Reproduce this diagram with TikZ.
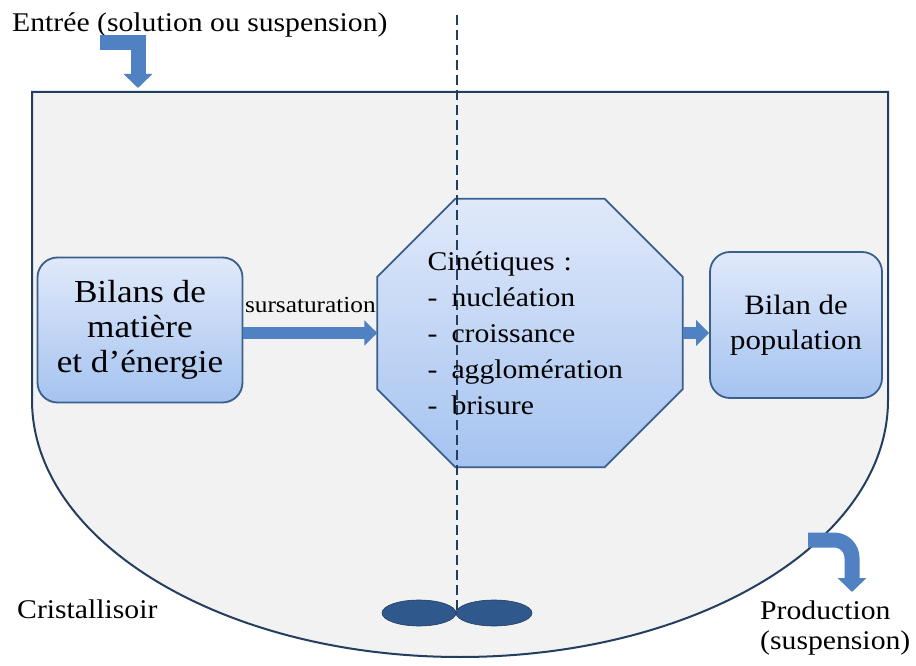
\documentclass[tikz,border=0pt]{standalone}
\usepackage{fontspec}
\setmainfont[FakeStretch=1.1]{Liberation Serif}
\usetikzlibrary{arrows.meta,shapes.geometric,positioning}
\pgfdeclarelayer{background}
\pgfdeclarelayer{foreground}
\pgfsetlayers{background,main,foreground}
\definecolor{navy}{RGB}{36,62,96}
\definecolor{bordbleu}{RGB}{58,95,140}
\definecolor{hautbleu}{RGB}{224,233,250}
\definecolor{basbleu}{RGB}{165,195,240}
\definecolor{flechebleu}{RGB}{79,129,195}
\definecolor{palebleu}{RGB}{47,89,140}
\definecolor{fondcuve}{RGB}{242,242,242}
\tikzstyle{bilan}=[draw=bordbleu, line width=1.8pt, top color=hautbleu,
  bottom color=basbleu, rounded corners=20pt, align=center,
  font=\fontsize{32}{35}\selectfont]
\tikzstyle{cinetique}=[text width=205pt, inner xsep=50pt, minimum height=268pt,
  align=left, font=\fontsize{27}{36}\selectfont]
\tikzstyle{octogone}=[draw=bordbleu, line width=1.8pt, top color=hautbleu,
  bottom color=basbleu]
\tikzstyle{texte}=[anchor=base west, inner sep=0pt, font=\fontsize{27}{30}\selectfont]
\tikzstyle{line}=[draw=flechebleu, line width=12pt, -{Triangle[width=25pt,length=13pt]}]
\tikzstyle{coude}=[draw=flechebleu, line width=15pt, -{Triangle[width=28pt,length=14pt]}]
\tikzstyle{pale}=[ellipse, fill=palebleu, draw=navy, line width=0.6pt,
  minimum width=74pt, minimum height=26pt, inner sep=0pt]
\newcommand{\tiret}{\makebox[24pt][l]{-}}

\begin{document}
\begin{tikzpicture}[x=1pt,y=1pt]
  \useasboundingbox (0,0) rectangle (916,665);

  % the crystallizer
  \begin{pgfonlayer}{background}
    \path[fill=fondcuve, draw=navy, line width=2pt] (32,265) -- (32,573)
      -- (888,573) -- (888,265)
      arc[start angle=0, end angle=-180, x radius=428pt, y radius=257pt] -- cycle;
  \end{pgfonlayer}

  % kinetics block
  \begin{pgfonlayer}{foreground}
    \node[cinetique] (CIN) at (530,332) {Cinétiques :\\
      \tiret nucléation\\ \tiret croissance\\ \tiret agglomération\\ \tiret brisure};
  \end{pgfonlayer}
  \path[octogone] ([xshift=78pt]CIN.north west) -- ([xshift=-78pt]CIN.north east)
    -- ([yshift=-78pt]CIN.north east) -- ([yshift=78pt]CIN.south east)
    -- ([xshift=-78pt]CIN.south east) -- ([xshift=78pt]CIN.south west)
    -- ([yshift=78pt]CIN.south west) -- ([yshift=-78pt]CIN.north west) -- cycle;

  % balances
  \path (CIN.center)+(-390,3) node[bilan, minimum width=205pt, minimum height=145pt]
    (BILANS) {Bilans de\\matière\\et d’énergie};
  \path (CIN.center)+(266,8) node[bilan, minimum width=172pt, minimum height=146pt,
    font=\fontsize{28}{35}\selectfont] (POP) {Bilan de\\population};

  % texts
  \node[texte] (ENTREE) at (12,633) {Entrée (solution ou suspension)};
  \node[texte] (CRIST) at (17,47) {Cristallisoir};
  \node[anchor=west, align=left, inner sep=0pt, font=\fontsize{27}{30}\selectfont]
    (PROD) at (760,37) {Production\\(suspension)};

  % stirrer
  \coordinate (AXE) at (457,650);
  \coordinate (MOYEU) at (457,52);
  \node[pale] (PALEG) at (419,52) {};
  \node[pale, minimum width=76pt] (PALED) at (494,52) {};
  \path[draw=navy, line width=1.6pt, dash pattern=on 10pt off 5pt] (AXE) -- (MOYEU);

  % arrows
  \path [line] (BILANS.east |- CIN.west) -- node[above=12pt, inner sep=2pt,
    font=\fontsize{23}{26}\selectfont, text=black] {sursaturation} (CIN.west);
  \path [line] (CIN.east) -- (CIN.east -| POP.west);

  \coordinate (E1) at (100,622);
  \coordinate (E2) at (138,577);
  \path [coude, line join=miter] (E1) -| (E2);
  \coordinate (P1) at (808,125);
  \coordinate (P2) at (852,73);
  \path [coude, rounded corners=18pt] (P1) -| (P2);

\end{tikzpicture}
\end{document}
